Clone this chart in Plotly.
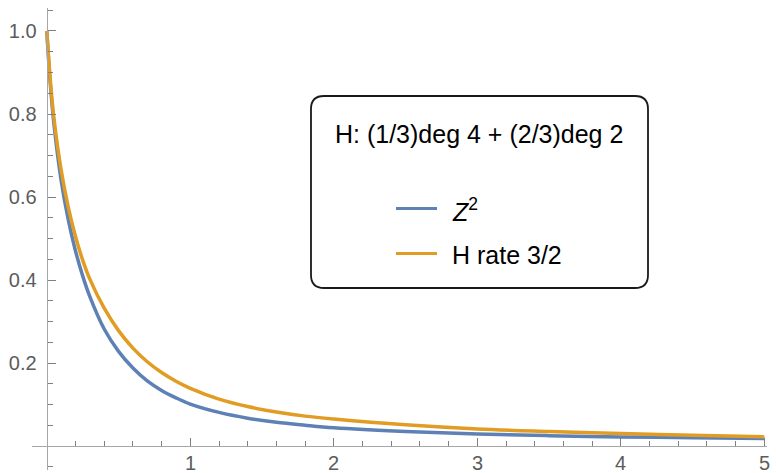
import re
import plotly.graph_objects as go

# Data
x_vals = [0, 0.025, 0.05, 0.1, 0.15, 0.2, 0.25, 0.3, 0.4, 0.5, 0.6, 0.7, 0.8, 0.9, 1.0,
          1.2, 1.4, 1.6, 1.8, 2.0, 2.5, 3.0, 3.5, 4.0, 4.5, 5.0]
z2_vals = [1.0, 0.87, 0.775, 0.64, 0.545, 0.47, 0.41, 0.36, 0.282, 0.228, 0.188, 0.157, 0.134, 0.116, 0.101,
           0.081, 0.067, 0.057, 0.05, 0.044, 0.035, 0.029, 0.025, 0.022, 0.02, 0.018]
hrate_vals = [1.0, 0.88, 0.79, 0.665, 0.575, 0.505, 0.448, 0.402, 0.332, 0.278, 0.236, 0.203, 0.177, 0.156, 0.139,
              0.113, 0.095, 0.082, 0.072, 0.065, 0.051, 0.041, 0.035, 0.03, 0.026, 0.022]

series_names = ["<i>Z</i><sup>2</sup>", "H rate 3/2"]
legend_title = "H: (1/3)deg 4 + (2/3)deg 2"
x_ticks = [1, 2, 3, 4, 5]
y_ticks = [0.2, 0.4, 0.6, 0.8, 1.0]
x_minor = [v / 5 for v in range(1, 26) if v % 5 != 0]
y_minor = [v / 20 for v in range(-1, 22) if v % 4 != 0]

BLUE = "#5E81B5"
ORANGE = "#E19C24"
W, H = 776, 473

fig = go.Figure()
fig.add_trace(go.Scatter(x=x_vals, y=z2_vals, mode="lines", line=dict(color=BLUE, width=3.5, shape="spline"),
                         showlegend=False))
fig.add_trace(go.Scatter(x=x_vals, y=hrate_vals, mode="lines", line=dict(color=ORANGE, width=3.5, shape="spline"),
                         showlegend=False))

axis_line = "#a6a6a6"
tick_col = "#808080"
FONT = "Liberation Sans, Arial, sans-serif"
label_font = dict(family=FONT, size=20, color="#5c5c5c")

fig.update_layout(
    width=W, height=H,
    margin=dict(l=0, r=0, t=0, b=0),
    paper_bgcolor="white", plot_bgcolor="white",
    xaxis=dict(
        domain=[32 / W, 767 / W], range=[-0.1031, 5.0188],
        anchor="free", position=0.0571,
        showgrid=False, zeroline=False, showline=True, linecolor=axis_line, linewidth=1.3,
        tickmode="array", tickvals=x_ticks, showticklabels=False,
        ticks="inside", ticklen=8, tickwidth=1.2, tickcolor=tick_col,
        minor=dict(tickmode="array", tickvals=x_minor, ticks="inside", ticklen=5, tickwidth=1.1,
                   tickcolor=tick_col, showgrid=False),
        automargin=False,
    ),
    yaxis=dict(
        domain=[3 / H, 465 / H], range=[-0.0578, 1.0554],
        anchor="free", position=0.0603,
        showgrid=False, zeroline=False, showline=True, linecolor=axis_line, linewidth=1.3,
        tickmode="array", tickvals=y_ticks, ticktext=["%.1f" % v for v in y_ticks],
        ticks="inside", ticklen=8, tickwidth=1.2, tickcolor=tick_col,
        tickfont=label_font, ticklabelstandoff=6,
        minor=dict(tickmode="array", tickvals=y_minor, ticks="inside", ticklen=5, tickwidth=1.1,
                   tickcolor=tick_col, showgrid=False),
        automargin=False,
    ),
)


def px(x):
    return x / W


def py(y):
    return 1 - y / H


# x tick labels as text just below the axis
for v in x_ticks:
    fig.add_annotation(x=v, y=py(463), xref="x", yref="paper", text=str(v), showarrow=False,
                       font=label_font, xanchor="center", yanchor="middle")

# Rounded legend box
x0, x1, y0, y1, r = 311, 648, 96, 288, 13
path = (f"M {x0 + r},{y0} L {x1 - r},{y0} Q {x1},{y0} {x1},{y0 + r} "
        f"L {x1},{y1 - r} Q {x1},{y1} {x1 - r},{y1} L {x0 + r},{y1} Q {x0},{y1} {x0},{y1 - r} "
        f"L {x0},{y0 + r} Q {x0},{y0} {x0 + r},{y0} Z")


def conv(m):
    a, b = float(m.group(1)), float(m.group(2))
    return f"{px(a):.5f},{py(b):.5f}"


path_paper = re.sub(r"([\d.]+),([\d.]+)", conv, path)
fig.add_shape(type="path", path=path_paper, xref="paper", yref="paper",
              line=dict(color="#1a1a1a", width=1.8), fillcolor="white", layer="above")

fig.add_annotation(x=px(479), y=py(134), xref="paper", yref="paper", text=legend_title, showarrow=False,
                   font=dict(family=FONT, size=25, color="black"),
                   xanchor="center", yanchor="middle")

entry_y = [208.5, 253.5]
colors = [BLUE, ORANGE]
for name, col, ey in zip(series_names, colors, entry_y):
    fig.add_shape(type="line", x0=px(396), x1=px(437), y0=py(ey), y1=py(ey), xref="paper", yref="paper",
                  line=dict(color=col, width=3), layer="above")
    fig.add_annotation(x=px(450), y=py(ey + 1), xref="paper", yref="paper", text=name, showarrow=False,
                       font=dict(family=FONT, size=25, color="black"),
                       xanchor="left", yanchor="middle")

fig.write_html("out.html")
